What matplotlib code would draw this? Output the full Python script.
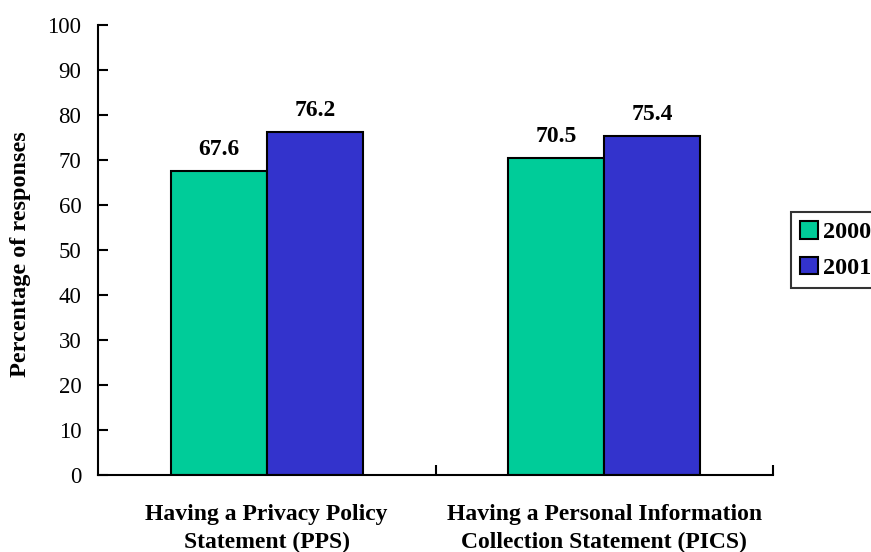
import matplotlib.pyplot as plt
import numpy as np

categories = ["Having a Privacy Policy\nStatement (PPS)",
              "Having a Personal Information\nCollection Statement (PICS)"]
years = ["2000", "2001"]
values_2000 = [67.6, 70.5]
values_2001 = [76.2, 75.4]

plt.rcParams['font.family'] = ['Liberation Serif', 'DejaVu Serif']

fig = plt.figure(figsize=[8.71, 5.52], dpi=100)
ax = fig.add_axes([0.1125, 0.1395, 0.775, 0.8152])

x = np.arange(len(categories))
w = 0.285
b1 = ax.bar(x - w / 2, values_2000, w, color='#00cc99', edgecolor='black',
            linewidth=1.5, label=years[0])
b2 = ax.bar(x + w / 2, values_2001, w, color='#3333cc', edgecolor='black',
            linewidth=1.5, label=years[1])

for bars in (b1, b2):
    for bar in bars:
        h = bar.get_height()
        ax.text(bar.get_x() + bar.get_width() / 2, h + 2.4, f"{h:.1f}",
                ha='center', va='bottom', fontsize=17, fontweight='bold')

ax.set_xlim(-0.5, 1.5)
ax.set_ylim(0, 100)
ax.set_yticks(range(0, 101, 10))
ax.set_xticks([0.5, 1.5], minor=False)
ax.set_xticklabels([])
ax.set_xticks(x, minor=True)
ax.set_xticklabels(categories, minor=True, fontsize=17, fontweight='bold',
                   linespacing=1.4)
ax.tick_params(axis='x', which='minor', length=0, pad=21)
ax.tick_params(axis='x', which='major', direction='in', length=7, width=1.5)
ax.tick_params(axis='y', direction='in', length=7, width=1.5, labelsize=16.5, pad=12)

for s in ('top', 'right'):
    ax.spines[s].set_visible(False)
for s in ('left', 'bottom'):
    ax.spines[s].set_linewidth(1.5)

ax.set_ylabel("Percentage of responses", fontsize=17.5, fontweight='bold')
ax.yaxis.set_label_coords(-0.099, 0.49)

leg = ax.legend(loc='center left', bbox_to_anchor=(1.027, 0.5), frameon=True,
                fancybox=False, edgecolor='black', prop={'size': 17.5, 'weight': 'bold'},
                handlelength=0.75, handleheight=0.75, handletextpad=0.2,
                borderpad=0.35, labelspacing=0.55, borderaxespad=0)
leg.get_frame().set_linewidth(1.5)

plt.savefig('out.png', dpi=100)
